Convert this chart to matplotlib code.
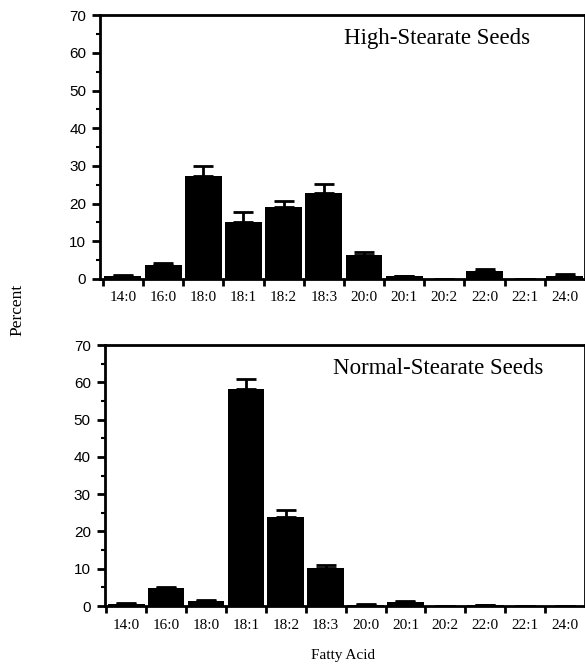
import matplotlib
matplotlib.use("Agg")
import matplotlib.pyplot as plt
import numpy as np

categories = ["14:0", "16:0", "18:0", "18:1", "18:2", "18:3", "20:0", "20:1", "20:2", "22:0", "22:1", "24:0"]
high_values = [0.7, 3.8, 27.3, 15.0, 19.2, 22.7, 6.3, 0.7, 0.0, 2.2, 0.0, 0.7]
high_errors = [0.2, 0.4, 2.7, 2.7, 1.6, 2.6, 0.9, 0.1, 0.0, 0.3, 0.0, 0.5]
normal_values = [0.6, 4.8, 1.4, 58.2, 23.8, 10.2, 0.4, 1.2, 0.1, 0.3, 0.0, 0.1]
normal_errors = [0.1, 0.3, 0.1, 2.6, 2.0, 0.8, 0.1, 0.1, 0.0, 0.1, 0.0, 0.0]
titles = ["High-Stearate Seeds", "Normal-Stearate Seeds"]
yticks = [0, 10, 20, 30, 40, 50, 60, 70]

serif = "Liberation Serif"
sans = "Liberation Sans"

fig = plt.figure(figsize=(5.85, 6.64), dpi=100)
ax1 = fig.add_axes([0.171, 0.580, 0.829, 0.397])
ax2 = fig.add_axes([0.179, 0.0873, 0.821, 0.393])

for ax, vals, errs, title, x0 in [(ax1, high_values, high_errors, titles[0], -0.07),
                                  (ax2, normal_values, normal_errors, titles[1], -0.04)]:
    x = np.arange(len(categories)) + 0.5
    ax.bar(x, vals, width=0.92, color="black", zorder=2)
    ax.errorbar(x, vals, yerr=[np.zeros(len(errs)), errs], fmt="none", ecolor="black",
                elinewidth=2, capsize=7, capthick=2, zorder=3)
    ax.set_xlim(x0, 12.0)
    ax.set_ylim(0, 70)
    ax.set_yticks(yticks)
    ax.set_yticks(np.arange(0, 71, 5), minor=True)
    ax.set_yticklabels([str(t) for t in yticks], fontfamily=sans, fontsize=11)
    ax.set_xticks(np.arange(0, 12))
    ax.set_xticklabels([])
    ax.set_xticks(x, minor=True)
    ax.set_xticklabels(categories, minor=True, fontfamily=serif, fontsize=11)
    ax.tick_params(axis="x", which="major", direction="out", length=5, width=2)
    ax.tick_params(axis="x", which="minor", length=0, pad=9)
    ax.tick_params(axis="y", which="major", direction="out", length=6, width=2, pad=4)
    ax.tick_params(axis="y", which="minor", direction="out", length=3, width=1.5)
    for s in ax.spines.values():
        s.set_linewidth(2)
    ax.text(0.695, 0.91, title, transform=ax.transAxes, ha="center", va="center",
            fontfamily=serif, fontsize=16.5)

fig.text(0.029, 0.533, "Percent", rotation=90, ha="center", va="center",
         fontfamily=serif, fontsize=12.5)
fig.text(0.587, 0.013, "Fatty Acid", ha="center", va="center",
         fontfamily=serif, fontsize=11)

fig.savefig("out.png", dpi=100)
